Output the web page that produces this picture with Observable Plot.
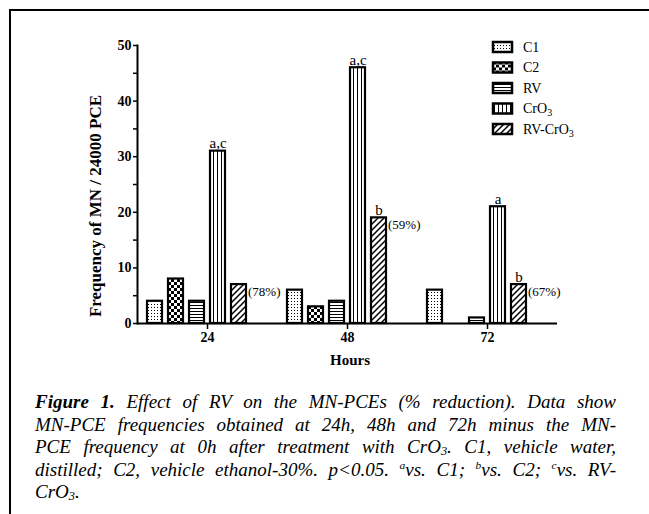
<!DOCTYPE html>
<html><head><meta charset="utf-8">
<script src="https://cdn.jsdelivr.net/npm/d3@7"></script>
<script src="https://cdn.jsdelivr.net/npm/@observablehq/plot@0.6"></script>
<style>
html,body{margin:0;padding:0;background:#fff}
body{width:649px;height:514px;overflow:hidden;position:relative;font-family:"Liberation Serif","Times New Roman",serif;color:#000}
#frame{position:absolute;left:9px;top:9px;width:700px;height:600px;border-left:2px solid #000;border-top:2px solid #000}
#chart{position:absolute;left:0;top:0}
#caption{position:absolute;left:35px;top:391px;width:581px;font-style:italic;font-size:19px;line-height:22.5px}
#caption .ln{text-align:justify;text-align-last:justify;height:22.5px}
#caption .last{text-align:left;text-align-last:left}
#caption sup{font-size:0.6em;position:relative;top:-0.55em;vertical-align:baseline;line-height:0}
#caption sub{font-size:0.65em;position:relative;top:0.2em;vertical-align:baseline;line-height:0}
</style></head><body>
<div id="frame"></div>
<div id="chart"></div>
<div id="caption">
<div class="ln"><b>Figure 1.</b> Effect of RV on the MN-PCEs (% reduction). Data show</div>
<div class="ln">MN-PCE frequencies obtained at 24h, 48h and 72h minus the MN-</div>
<div class="ln">PCE frequency at 0h after treatment with CrO<sub>3</sub>. C1, vehicle water,</div>
<div class="ln">distilled; C2, vehicle ethanol-30%. p&lt;0.05. <sup>a</sup>vs. C1; <sup>b</sup>vs. C2; <sup>c</sup>vs. RV-</div>
<div class="ln last">CrO<sub>3</sub>.</div>
</div>
<script>
// ---- data ----
const hours = ["24", "48", "72"];
const series = ["C1", "C2", "RV", "CrO3", "RV-CrO3"];
const c1 = [4, 6, 6];
const c2 = [8, 3, 0];
const rv = [4, 4, 1];
const cro3 = [31, 46, 21];
const rvCro3 = [7, 19, 7];
const cro3Sig = ["a,c", "a,c", "a"];
const rvCro3Sig = ["", "b", "b"];
const reduction = ["(78%)", "(59%)", "(67%)"];
const yTicks = [0, 10, 20, 30, 40, 50];
const yMinor = [5, 15, 25, 35, 45];
const yTitle = "Frequency of MN / 24000 PCE";
const xTitle = "Hours";

const seriesValues = [c1, c2, rv, cro3, rvCro3];
const rows = [];
series.forEach((s, i) => hours.forEach((h, j) => rows.push({hour: h, series: s, value: seriesValues[i][j]})));
const sigRows = [];
hours.forEach((h, j) => {
  sigRows.push({hour: h, series: "CrO3", value: cro3[j], label: cro3Sig[j]});
  if (rvCro3Sig[j]) sigRows.push({hour: h, series: "RV-CrO3", value: rvCro3[j], label: rvCro3Sig[j]});
});
const pctRows = hours.map((h, j) => ({hour: h, series: "RV-CrO3", value: rvCro3[j], label: reduction[j]}));

const font = "'Liberation Serif','Times New Roman',serif";

const plot = Plot.plot({
  width: 649,
  height: 372,
  marginLeft: 137,
  marginRight: 92,
  marginTop: 45,
  marginBottom: 49,
  fx: {domain: hours, padding: 0, label: null},
  x: {domain: [...series, " "], paddingInner: 0.286, paddingOuter: 0.476, axis: null},
  y: {domain: [0, 50], axis: null},
  style: {fontFamily: font, fontSize: "14px", color: "#000", background: "transparent", overflow: "visible"},
  marks: [
    ...series.map((s, i) => Plot.barY(rows.filter(r => r.series === s && r.value > 0), {
      fx: "hour", x: "series", y: "value", fill: `url(#pat${i})`, stroke: "#000", strokeWidth: 2.2
    })),
    Plot.ruleY([0], {strokeWidth: 2}),
    Plot.frame({anchor: "left", facetAnchor: "left", strokeWidth: 2}),
    Plot.axisY({ticks: yTicks, tickSize: 4, tickPadding: 2, fontWeight: "bold", fontSize: 14, label: null, strokeWidth: 1.5}),
    Plot.axisY({ticks: yMinor, tickSize: 4, text: null, label: null, strokeWidth: 1.5}),
    Plot.axisFx({anchor: "bottom", tickSize: 6, tickPadding: 3, fontWeight: "bold", fontSize: 14, label: null, strokeWidth: 1.5}),
    Plot.text(sigRows, {fx: "hour", x: "series", y: "value", text: "label", lineAnchor: "bottom", dy: -3, fontSize: 15}),
    Plot.text(pctRows, {fx: "hour", x: "series", y: "value", text: "label", textAnchor: "start", lineAnchor: "top", dx: 9, dy: 2, fontSize: 13})
  ]
});
document.getElementById("chart").appendChild(plot);

// ---- patterns, legend and axis titles ----
const svg = d3.select(plot);
const defs = svg.insert("defs", ":first-child");
function pat(id, w, h, draw) {
  const p = defs.append("pattern").attr("id", id).attr("patternUnits", "userSpaceOnUse").attr("width", w).attr("height", h);
  p.append("rect").attr("width", w).attr("height", h).attr("fill", "#fff");
  draw(p);
}
pat("pat0", 3, 3, p => { p.append("rect").attr("x", 1).attr("y", 1).attr("width", 1).attr("height", 1).attr("fill", "#000"); });
pat("pat1", 6, 6, p => { p.append("rect").attr("width", 3).attr("height", 3).attr("fill", "#000"); p.append("rect").attr("x", 3).attr("y", 3).attr("width", 3).attr("height", 3).attr("fill", "#000"); });
pat("pat2", 3, 3, p => { p.append("rect").attr("y", 2).attr("width", 3).attr("height", 1).attr("fill", "#000"); });
pat("pat3", 4, 4, p => { p.append("rect").attr("x", 1).attr("width", 1).attr("height", 4).attr("fill", "#000"); });
pat("pat4", 6, 6, p => {
  p.append("path").attr("d", "M-1,7 L7,-1 M-4,4 L4,-4 M2,10 L10,2").attr("stroke", "#000").attr("stroke-width", 1.5);
});

const yScale = plot.scale("y");
const xMid = 137 + (649 - 137 - 92) / 2;
const y0 = yScale.apply(0), y50 = yScale.apply(50);

svg.append("text").attr("transform", `translate(101,${(y0 + y50) / 2 + 22}) rotate(-90)`)
  .attr("text-anchor", "middle").attr("font-weight", "bold").attr("font-size", 17).attr("font-family", font).text(yTitle);
svg.append("text").attr("x", xMid + 3).attr("y", y0 + 42).attr("text-anchor", "middle")
  .attr("font-weight", "bold").attr("font-size", 15).attr("font-family", font).text(xTitle);

const leg = svg.append("g").attr("font-family", font).attr("font-size", 14).attr("text-anchor", "start");
series.forEach((s, i) => {
  const g = leg.append("g").attr("transform", `translate(493,${47 + i * 20.5})`);
  g.append("rect").attr("x", 0).attr("y", -5).attr("width", 19).attr("height", 10)
    .attr("fill", `url(#pat${i})`).attr("stroke", "#000").attr("stroke-width", 2.5);
  const t = g.append("text").attr("x", 30).attr("y", 0).attr("dy", "0.35em").attr("text-anchor", "start");
  if (s.endsWith("3")) {
    t.append("tspan").text(s.slice(0, -1));
    t.append("tspan").attr("font-size", 10).attr("dy", "0.3em").text("3");
  } else t.text(s);
});
</script>
</body></html>
